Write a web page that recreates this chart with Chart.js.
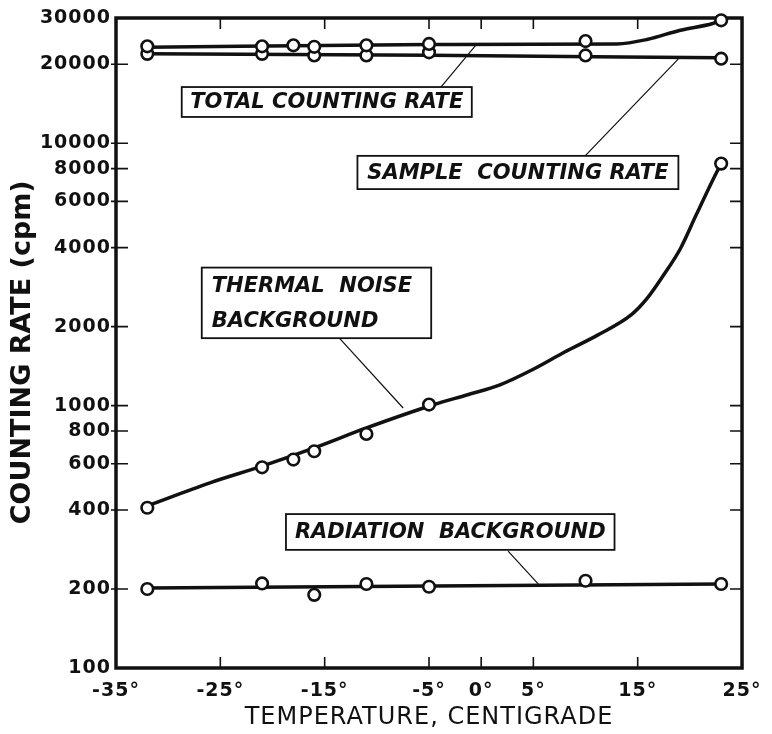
<!DOCTYPE html>
<html>
<head>
<meta charset="utf-8">
<script src="https://cdn.jsdelivr.net/npm/chart.js@4/dist/chart.umd.min.js"></script>
<style>
  html, body { margin: 0; padding: 0; background: #fff; }
  #wrap { width: 772px; height: 734px; }
</style>
</head>
<body>
<div id="wrap"><canvas id="c" width="772" height="734"></canvas></div>
<script>
// ---- Data ----
const xTickValues = [-35, -25, -15, -5, 0, 5, 15, 25];
const yTickValues = [100, 200, 400, 600, 800, 1000, 2000, 4000, 6000, 8000, 10000, 20000, 30000];
const topTickValues = [-25, -15, -5, 0, 5, 15];

const totalTemp = [-32, -21, -18, -16, -11, -5, 10, 23];
const totalRate = [23400, 23400, 23600, 23300, 23600, 23900, 24500, 29400];
const sampleTemp = [-32, -21, -16, -11, -5, 10, 23];
const sampleRate = [21900, 21900, 21600, 21600, 22200, 21600, 21000];
const thermalTemp = [-32, -21, -18, -16, -11, -5, 23];
const thermalRate = [408, 582, 623, 670, 780, 1009, 8360];
const radiationTemp = [-32, -21, -16, -11, -5, 10, 23];
const radiationRate = [200, 210, 190, 209, 204, 215, 209];

// fitted (hand-drawn) curves
const totalFitTemp = [-32, -5, 13, 15.9, 19.1, 22.2, 23];
const totalFitRate = [23200, 23750, 23900, 24850, 26960, 28600, 29400];
const sampleFitTemp = [-32, -5, 23];
const sampleFitRate = [21900, 21650, 21150];
const thermalFitTemp = [-32, -26, -21, -16, -11, -4.5, -1.3, 1.8, 4.9, 8, 11.2, 14.4, 15.9, 17.5, 19.1, 20.6, 22.2, 23];
const thermalFitRate = [415, 508, 588, 690, 822, 1010, 1100, 1200, 1370, 1600, 1860, 2220, 2560, 3150, 3970, 5320, 7240, 8360];
const radiationFitTemp = [-32, 23];
const radiationFitRate = [202, 209];

// label boxes (data-space anchors) and their leader lines
const labelText = [['TOTAL COUNTING RATE'], ['SAMPLE  COUNTING RATE'], ['THERMAL  NOISE', 'BACKGROUND'], ['RADIATION  BACKGROUND']];
const labelTempRange = [[-28.7, -0.9], [-11.86, 18.9], [-26.78, -4.79], [-18.71, 12.78]];
const labelRateRange = [[16370, 12590], [8948, 6685], [3357, 1807], [386, 282]];
const leaderFrom = [[-3.86, 16370], [9.96, 8948], [-13.59, 1807], [2.58, 279]];
const leaderTo = [[-0.41, 23910], [18.9, 20970], [-7.48, 979], [5.57, 207]];

const yTitle = 'COUNTING RATE (cpm)';
const xTitle = 'TEMPERATURE, CENTIGRADE';

const INK = '#111';
const pts = (xs, ys) => xs.map((t, i) => ({ x: t, y: ys[i] }));

function pointSet(xs, ys) {
  return {
    type: 'line', showLine: false, data: pts(xs, ys), order: 0, clip: false,
    pointRadius: 5.8, pointBorderWidth: 2.6, pointBackgroundColor: '#fff',
    pointBorderColor: INK, borderColor: INK
  };
}
function curveSet(xs, ys) {
  return {
    type: 'line', data: pts(xs, ys), order: 1, clip: false,
    pointRadius: 0, borderWidth: 3.5, borderColor: INK,
    cubicInterpolationMode: 'monotone', fill: false
  };
}

const framePlugin = {
  id: 'frame',
  beforeDraw(chart) {
    const ctx = chart.ctx;
    ctx.save();
    ctx.fillStyle = '#fff';
    ctx.fillRect(0, 0, chart.width, chart.height);
    ctx.restore();
    // slightly wide hand-lettered look for axis text
    if ('letterSpacing' in ctx) ctx.letterSpacing = '1px';
  },
  beforeDatasetsDraw(chart) {
    const { ctx, chartArea: a, scales: { x, y } } = chart;
    if ('letterSpacing' in ctx) ctx.letterSpacing = '0px';
    ctx.save();
    ctx.strokeStyle = INK;
    ctx.lineCap = 'butt';
    // frame
    ctx.lineWidth = 3.5;
    ctx.strokeRect(a.left, a.top, a.right - a.left, a.bottom - a.top);
    // inward ticks
    ctx.lineWidth = 1.6;
    ctx.beginPath();
    yTickValues.forEach(v => {
      const py = y.getPixelForValue(v);
      if (py <= a.top + 2 || py >= a.bottom - 2) return;
      ctx.moveTo(a.left - 5, py); ctx.lineTo(a.left + 12, py);
      ctx.moveTo(a.right - 12, py); ctx.lineTo(a.right, py);
    });
    topTickValues.forEach(v => {
      const px = x.getPixelForValue(v);
      ctx.moveTo(px, a.top); ctx.lineTo(px, a.top + 11);
      ctx.moveTo(px, a.bottom); ctx.lineTo(px, a.bottom - 11);
    });
    ctx.stroke();
    // y-axis title (rotated), centred on the lettering of the original
    ctx.save();
    ctx.fillStyle = INK;
    ctx.font = 'bold 27px "DejaVu Sans"';
    ctx.textAlign = 'center';
    ctx.textBaseline = 'middle';
    ctx.translate(23, (y.getPixelForValue(1700) + y.getPixelForValue(1500)) / 2);
    ctx.rotate(-Math.PI / 2);
    ctx.fillText(yTitle, 0, 0);
    ctx.restore();
    // leader lines
    ctx.lineWidth = 1.2;
    ctx.beginPath();
    leaderFrom.forEach((f, i) => {
      const t = leaderTo[i];
      ctx.moveTo(x.getPixelForValue(f[0]), y.getPixelForValue(f[1]));
      ctx.lineTo(x.getPixelForValue(t[0]), y.getPixelForValue(t[1]));
    });
    ctx.stroke();
    // label boxes
    ctx.font = 'italic bold 21px "DejaVu Sans"';
    ctx.textBaseline = 'middle';
    labelText.forEach((lines, i) => {
      const x0 = x.getPixelForValue(labelTempRange[i][0]);
      const x1 = x.getPixelForValue(labelTempRange[i][1]);
      const y0 = y.getPixelForValue(labelRateRange[i][0]);
      const y1 = y.getPixelForValue(labelRateRange[i][1]);
      ctx.fillStyle = '#fff';
      ctx.fillRect(x0, y0, x1 - x0, y1 - y0);
      ctx.lineWidth = 1.8;
      ctx.strokeRect(x0, y0, x1 - x0, y1 - y0);
      ctx.fillStyle = INK;
      const lh = (y1 - y0) / lines.length;
      lines.forEach((s, j) => {
        const cy = y0 + lh * (j + 0.5) + 1;
        let tx;
        if (lines.length > 1) { ctx.textAlign = 'left'; tx = x0 + 10; }
        else { ctx.textAlign = 'center'; tx = (x0 + x1) / 2; }
        ctx.fillText(s, tx, cy);
      });
    });
    ctx.restore();
  }
};

new Chart(document.getElementById('c'), {
  type: 'line',
  data: {
    datasets: [
      pointSet(totalTemp, totalRate),
      pointSet(sampleTemp, sampleRate),
      pointSet(thermalTemp, thermalRate),
      pointSet(radiationTemp, radiationRate),
      curveSet(totalFitTemp, totalFitRate),
      curveSet(sampleFitTemp, sampleFitRate),
      curveSet(thermalFitTemp, thermalFitRate),
      curveSet(radiationFitTemp, radiationFitRate)
    ]
  },
  options: {
    responsive: false,
    animation: false,
    events: [],
    layout: { padding: { top: 18, right: 19, left: 0, bottom: 0 } },
    plugins: { legend: { display: false }, tooltip: { enabled: false } },
    scales: {
      x: {
        type: 'linear', min: -35, max: 25,
        afterBuildTicks: s => { s.ticks = xTickValues.map(v => ({ value: v })); },
        afterFit: s => { s.height = 66; },
        grid: { display: false, drawTicks: false },
        border: { display: false },
        ticks: {
          autoSkip: false, maxRotation: 0, padding: 12, color: INK,
          font: { family: 'DejaVu Sans', weight: 'bold', size: 19 },
          callback: v => v + '°'
        },
        title: {
          display: true, text: xTitle, color: INK,
          font: { family: 'DejaVu Sans', size: 24 },
          padding: { top: 0, bottom: 2 }
        }
      },
      y: {
        type: 'logarithmic', min: 100, max: 30000,
        afterBuildTicks: s => { s.ticks = yTickValues.map(v => ({ value: v })); },
        afterFit: s => { s.width = 116; },
        grid: { display: false, drawTicks: false },
        border: { display: false },
        ticks: {
          autoSkip: false, padding: 5, color: INK,
          font: { family: 'DejaVu Sans', weight: 'bold', size: 19 },
          callback: v => String(v)
        },
        title: { display: false, text: yTitle }
      }
    }
  },
  plugins: [framePlugin]
});
</script>
</body>
</html>
